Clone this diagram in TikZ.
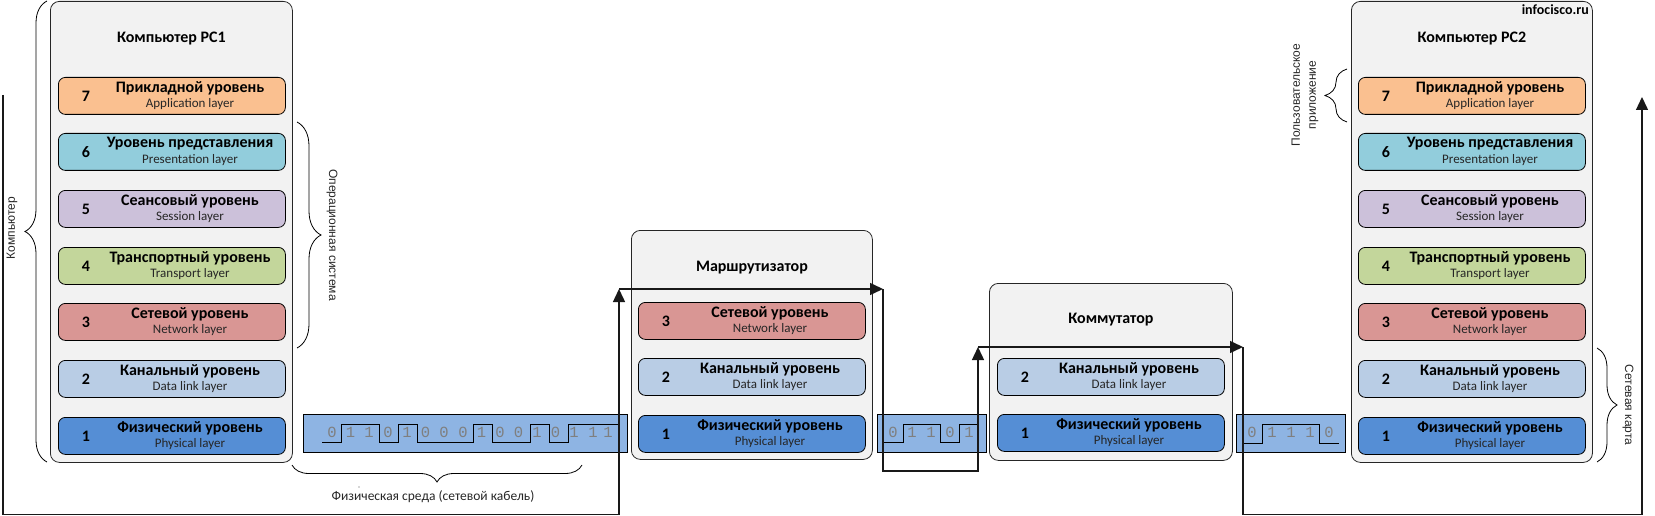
\documentclass[tikz,border=0pt]{standalone}
\usepackage{fontspec}
\setmainfont{Carlito}
\newfontfamily\arialf{Liberation Sans}
\newfontfamily\monof{Liberation Mono}
\usetikzlibrary{arrows.meta,decorations.pathreplacing,calc}
\definecolor{boxbg}{HTML}{F2F2F2}
\definecolor{lseven}{HTML}{FAC090}
\definecolor{lsix}{HTML}{92CDDC}
\definecolor{lfive}{HTML}{CCC1DA}
\definecolor{lfour}{HTML}{C3D69B}
\definecolor{lthree}{HTML}{D99694}
\definecolor{ltwo}{HTML}{B9CDE5}
\definecolor{lone}{HTML}{558ED5}
\definecolor{cablec}{HTML}{8EB4E3}
\definecolor{digitc}{HTML}{7F7F7F}
\tikzset{
  devbox/.style={draw=black!85, fill=boxbg, rounded corners=9pt, line width=0.8pt, anchor=north west, inner sep=0pt},
  layerbox/.style={draw=black, rounded corners=7pt, line width=0.8pt, minimum width=227pt, minimum height=37pt, anchor=north west, inner sep=0pt},
  numtxt/.style={font=\fontsize{16}{18}\selectfont\bfseries, inner sep=0pt},
  ttl/.style={font=\fontsize{16}{18}\selectfont\bfseries, inner sep=0pt},
  sub/.style={font=\fontsize{13}{15}\selectfont, text=black!85, inner sep=0pt},
  devttl/.style={font=\fontsize{16}{18}\selectfont\bfseries, inner sep=0pt},
  cablebox/.style={draw=black, fill=cablec, line width=0.8pt, anchor=north west, minimum height=38pt, inner sep=0pt},
  wave/.style={draw=black, line width=0.8pt},
  digit/.style={font=\monof\fontsize{15.5}{16}\selectfont, text=digitc, inner sep=0pt},
  sig/.style={draw=black!90, line width=1.4pt},
  sigarrow/.style={sig, -{Triangle[length=13pt,width=12pt]}},
  bracel/.style={draw=black, line width=0.8pt, decorate},
  bracetxt/.style={font=\arialf\fontsize{12}{14}\selectfont, inner sep=0pt, text=black!85},
}
\newcommand\osilayer[7]{%
  \node[layerbox, fill=#4] (#1) at (#2,#3) {};
  \node[numtxt] (#1n) at ($(#1.west)+(28pt,0pt)$) {#5};
  \node[ttl] (#1t) at ($(#1.north west)+(132pt,-11pt)$) {#6};
  \node[sub] (#1s) at ($(#1.north west)+(132pt,-27pt)$) {#7};
}
\newcommand\bitsat[3]{% name, x, digit
  \node[digit] (#1) at (#2,432.5) {#3};
}
\begin{document}
\begin{tikzpicture}[x=1pt,y=-1pt]
\useasboundingbox (0,0) rectangle (1655,516);

% device boxes
\node[devbox, minimum width=242pt, minimum height=461pt] (pc1) at (50,1) {};
\node[devbox, minimum width=241pt, minimum height=229pt] (rt) at (631,230) {};
\node[devbox, minimum width=243pt, minimum height=177pt] (sw) at (989,283) {};
\node[devbox, minimum width=241pt, minimum height=461pt] (pc2) at (1351,1) {};

\node[devttl] (pc1t) at ($(pc1.north)+(0pt,-38pt)$) {Компьютер PC1};
\node[devttl] (rtt) at ($(rt.north)+(0pt,-38pt)$) {Маршрутизатор};
\node[devttl] (swt) at ($(sw.north)+(0pt,-37pt)$) {Коммутатор};
\node[devttl] (pc2t) at ($(pc2.north)+(0pt,-38pt)$) {Компьютер PC2};
\node[font=\fontsize{14}{16}\selectfont\bfseries, anchor=east, inner sep=0pt] (site) at (1589,9.5) {infocisco.ru};

% PC1 layers
\osilayer{aseven}{58}{77}{lseven}{7}{Прикладной уровень}{Application layer}
\osilayer{asix}{58}{133}{lsix}{6}{Уровень представления}{Presentation layer}
\osilayer{afive}{58}{190}{lfive}{5}{Сеансовый уровень}{Session layer}
\osilayer{afour}{58}{247}{lfour}{4}{Транспортный уровень}{Transport layer}
\osilayer{athree}{58}{303}{lthree}{3}{Сетевой уровень}{Network layer}
\osilayer{atwo}{58}{360}{ltwo}{2}{Канальный уровень}{Data link layer}
\osilayer{aone}{58}{417}{lone}{1}{Физический уровень}{Physical layer}

% Router layers
\osilayer{rthree}{638}{302}{lthree}{3}{Сетевой уровень}{Network layer}
\osilayer{rtwo}{638}{358}{ltwo}{2}{Канальный уровень}{Data link layer}
\osilayer{rone}{638}{415}{lone}{1}{Физический уровень}{Physical layer}

% Switch layers
\osilayer{stwo}{997}{358}{ltwo}{2}{Канальный уровень}{Data link layer}
\osilayer{sone}{997}{414}{lone}{1}{Физический уровень}{Physical layer}

% PC2 layers
\osilayer{bseven}{1358}{77}{lseven}{7}{Прикладной уровень}{Application layer}
\osilayer{bsix}{1358}{133}{lsix}{6}{Уровень представления}{Presentation layer}
\osilayer{bfive}{1358}{190}{lfive}{5}{Сеансовый уровень}{Session layer}
\osilayer{bfour}{1358}{247}{lfour}{4}{Транспортный уровень}{Transport layer}
\osilayer{bthree}{1358}{303}{lthree}{3}{Сетевой уровень}{Network layer}
\osilayer{btwo}{1358}{360}{ltwo}{2}{Канальный уровень}{Data link layer}
\osilayer{bone}{1358}{417}{lone}{1}{Физический уровень}{Physical layer}

% cables
\node[cablebox, minimum width=324pt] (cab1) at (303,414) {};
\node[cablebox, minimum width=109pt] (cab2) at (877,414) {};
\node[cablebox, minimum width=109pt] (cab3) at (1236,414) {};

% waveforms
\draw[wave] (322,442) -- (341,442) -- (341,424) -- (379,424) -- (379,442) -- (398,442) -- (398,424) -- (417,424) -- (417,442) -- (473,442) -- (473,424) -- (492,424) -- (492,442) -- (530,442) -- (530,424) -- (549,424) -- (549,442) -- (568,442) -- (568,424) -- (619,424);
\draw[wave] (883,442) -- (903,442) -- (903,424) -- (940,424) -- (940,442) -- (959,442) -- (959,424) -- (978,424);
\draw[wave] (1243,443) -- (1262,443) -- (1262,424) -- (1319,424) -- (1319,443) -- (1339,443);

% digits
\bitsat{ca}{332}{0}\bitsat{cb}{350.5}{1}\bitsat{cc}{369}{1}\bitsat{cd}{388}{0}
\bitsat{ce}{407}{1}\bitsat{cf}{425.5}{0}\bitsat{cg}{444}{0}\bitsat{ch}{463}{0}
\bitsat{ci}{481.5}{1}\bitsat{cj}{500}{0}\bitsat{ck}{518.5}{0}\bitsat{cl}{537}{1}
\bitsat{cm}{555.5}{0}\bitsat{cn}{574}{1}\bitsat{co}{593}{1}\bitsat{cp}{608}{1}
\bitsat{da}{893}{0}\bitsat{db}{912}{1}\bitsat{dc}{931}{1}\bitsat{dd}{950}{0}\bitsat{de}{969}{1}
\bitsat{ea}{1252}{0}\bitsat{eb}{1272}{1}\bitsat{ec}{1291}{1}\bitsat{ed}{1310}{1}\bitsat{ee}{1329}{0}

% signal path
\coordinate (s0) at (3,95);
\coordinate (s1) at (3,514.5);
\coordinate (s2) at (619,514.5);
\coordinate (s3) at (619,289);
\coordinate (s4) at (883,289);
\coordinate (s5) at (883,471);
\coordinate (s6) at (978,471);
\coordinate (s7) at (978,347);
\coordinate (s8) at (1243,347);
\coordinate (s9) at (1243,514.5);
\coordinate (s10) at (1642,514.5);
\coordinate (s11) at (1642,97);
\draw[sigarrow] (s0) -- (s1) -- (s2) -- (s3);
\draw[sigarrow] (s3) -- (s4);
\draw[sigarrow] (s4) -- (s5) -- (s6) -- (s7);
\draw[sigarrow] (s7) -- (s8);
\draw[sigarrow] (s8) -- (s9) -- (s10) -- (s11);

% braces
\draw[bracel, decoration={brace, amplitude=22pt}] (47,462) -- (47,1);
\node[bracetxt, rotate=90] (lblpc) at (12,228) {Компьютер};
\draw[bracel, decoration={brace, amplitude=24pt}] (297,122) -- (297,348);
\node[bracetxt, rotate=-90] (lblos) at (332,235) {Операционная система};
\draw[bracel, decoration={brace, amplitude=17pt}] (582,465) -- (292,465);
\node[font=\fontsize{13.5}{15}\selectfont, inner sep=0pt, text=black!85] (lblphy) at (433,497) {Физическая среда (сетевой кабель)};
\fill[black!70] (359,487) circle (0.7pt);
\draw[bracel, decoration={brace, amplitude=22pt}] (1347,122) -- (1347,69);
\node[bracetxt, rotate=90, align=center, font=\arialf\fontsize{12}{16}\selectfont] (lblapp) at (1305,95) {Пользовательское\\приложение};
\draw[bracel, decoration={brace, amplitude=20pt}] (1597,348) -- (1597,462);
\node[bracetxt, rotate=-90] (lblnic) at (1628,405) {Сетевая карта};
\end{tikzpicture}
\end{document}
